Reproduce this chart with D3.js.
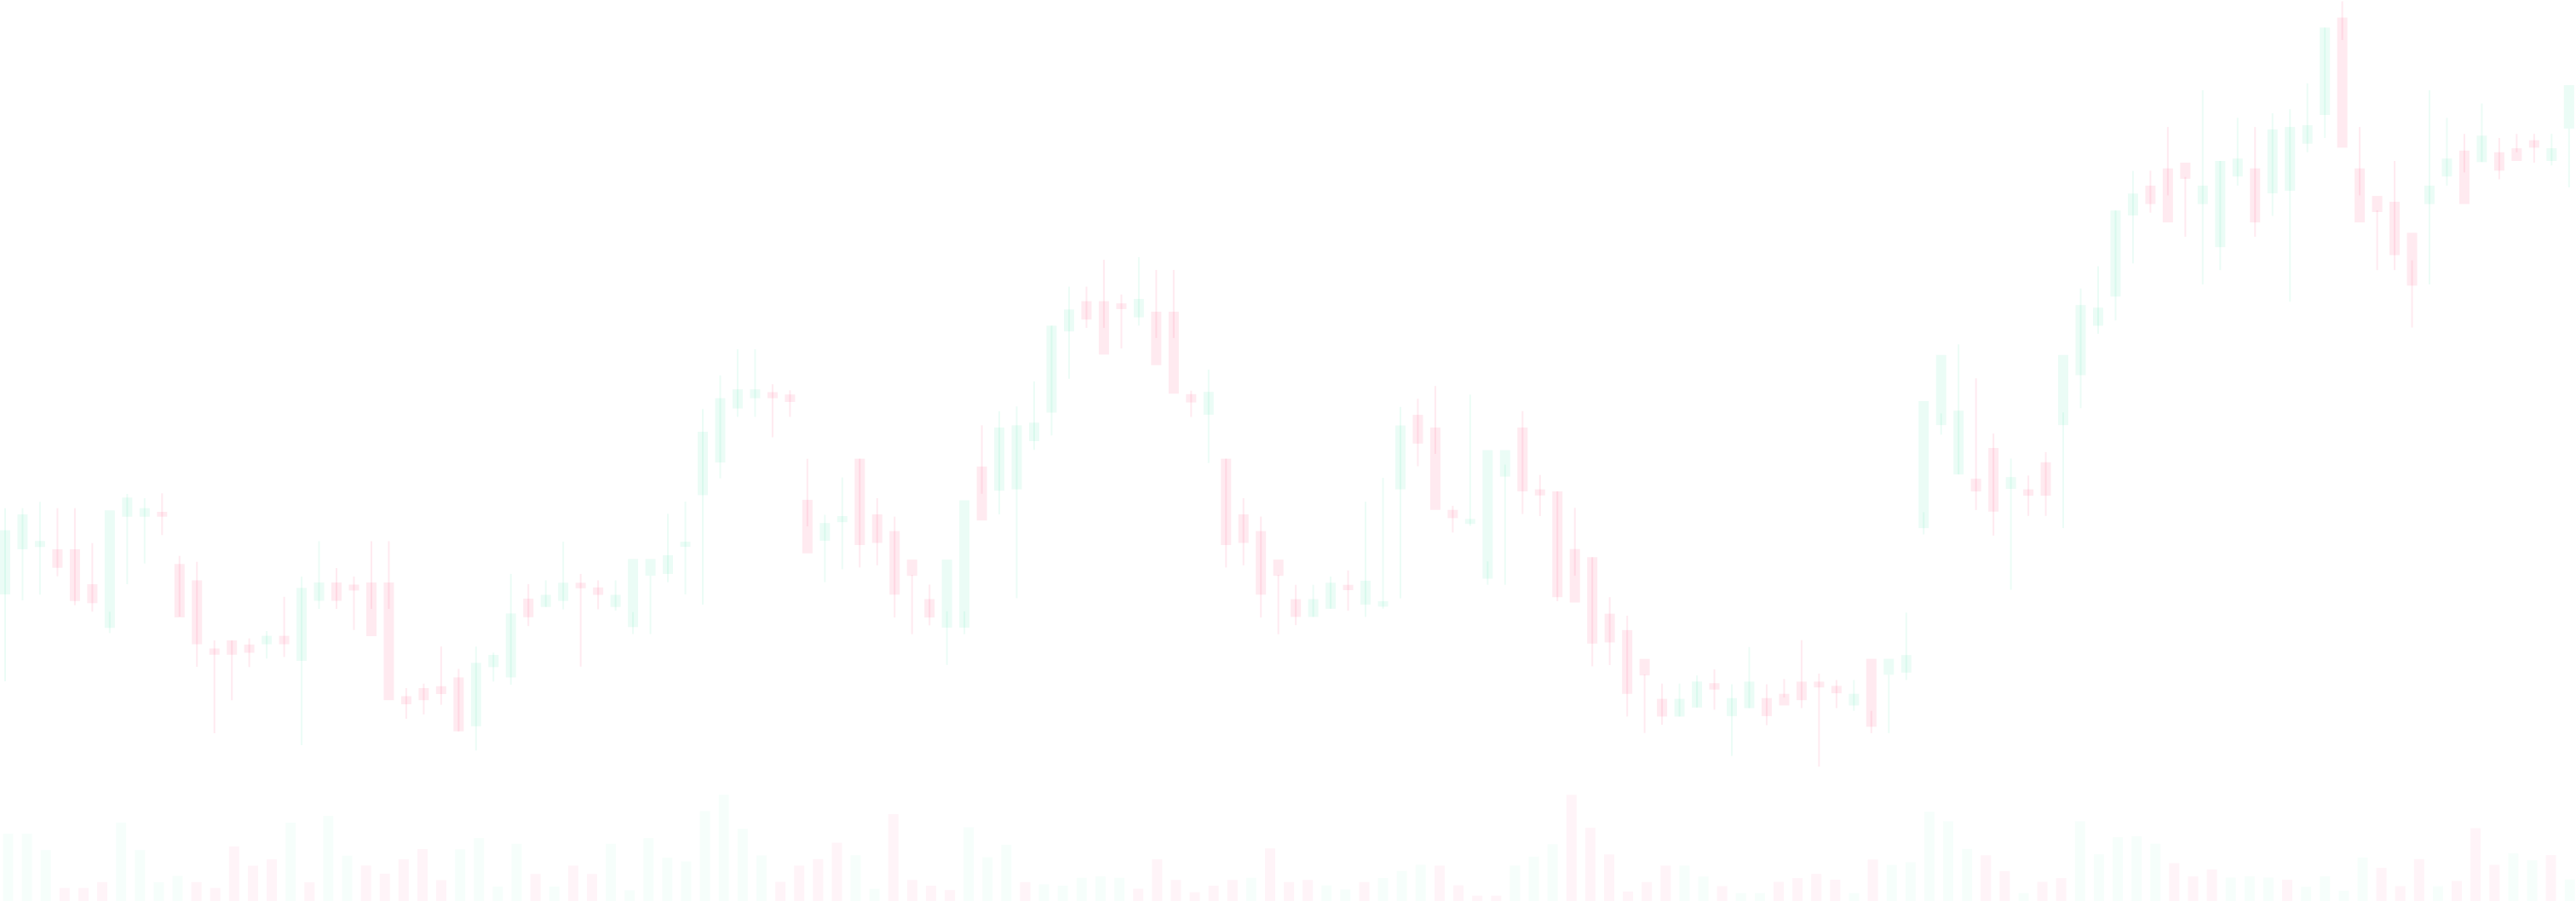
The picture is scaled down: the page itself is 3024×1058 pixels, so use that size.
<!DOCTYPE html>
<html><head><meta charset="utf-8">
<script src="https://cdn.jsdelivr.net/npm/d3@7"></script>
<style>html,body{margin:0;padding:0;background:#fff;overflow:hidden}svg{display:block}</style>
</head><body>
<script>
const openP = [
30.2,35.5,35.77,35.5,35.5,31.4,26.27,39.33,39.33,39.9,
33.77,31.85,23.85,24.8,24.32,24.35,25.34,22.4,29.45,31.6,
31.35,31.6,31.6,18.25,19.2,19.42,20.46,14.72,21.67,20.46,
29.71,28.73,29.44,31.57,31.02,28.73,26.37,32.4,32.61,35.79,
41.86,45.69,52.04,53.24,53.95,53.68,41.31,36.5,38.69,46.14,
39.6,37.64,34.29,29.65,26.3,26.3,45.22,42.38,42.54,48.2,
51.55,61.09,64.64,64.64,64.38,62.74,63.4,63.4,53.72,51.3,
46.14,39.6,37.64,34.29,29.64,27.56,28.52,31.33,29.01,28.77,
42.54,51.29,49.8,40.13,38.48,32.05,44.04,49.8,42.54,42.3,
35.53,34.57,27.94,26.01,22.63,17.94,15.86,16.92,19.78,15.91,
16.85,18.03,18.53,19.96,19.96,19.46,17.16,22.64,20.77,21.02,
37.99,50.09,44.29,43.79,47.4,42.6,42.54,45.72,50.09,55.95,
61.75,65.18,74.7,78.2,80.23,80.9,76.04,70.98,79.28,80.23,
77.3,77.6,83.13,86.5,97.94,80.23,76.99,76.31,72.67,76.04,
79.28,82.32,80.97,82.12,82.59,83.53,81.1,84.9];
const closeP = [
37.73,39.6,36.47,33.33,29.43,29.17,40.07,41.57,40.33,39.33,
27.5,24.35,23.12,23.12,23.35,25.34,24.35,30.96,31.6,29.45,
30.66,25.3,17.78,17.3,17.78,18.5,14.12,22.16,23.1,27.96,
27.52,30.15,31.57,30.92,30.15,30.15,34.36,34.36,34.8,36.39,
49.3,53.24,54.28,54.28,53.24,52.8,35.02,38.58,39.4,36,
36.25,30.17,32.38,27.49,34.29,41.25,38.88,49.8,50.06,50.37,
61.76,63.66,62.48,58.36,63.71,64.9,57.12,53.77,52.74,53.98,
36,36.25,30.17,32.38,27.56,29.64,31.57,30.7,31.81,29.4,
50.04,47.91,40.13,39.16,39.06,47.14,47.14,42.3,41.82,29.88,
29.25,24.42,24.56,18.52,20.69,15.86,17.94,19.97,19.03,18.03,
19.96,15.91,17.16,17.78,19.28,18.59,18.53,14.66,22.64,23.08,
52.9,58.32,51.77,42.29,39.92,43.98,41.79,41.79,58.32,64.18,
63.87,75.28,77.27,76.04,73.88,79.01,78.2,81.1,81.38,73.88,
84.8,85.09,85.29,96.76,82.66,73.88,75.1,70.04,66.46,78.2,
81.38,76.04,84.07,79.96,81.1,82.66,82.59,90];
const highP = [
40.33,40.33,41.07,40.33,40.33,36.23,28.17,42,41.5,42.07,
34.73,34.03,24.8,24.8,25.04,25.9,29.92,32.3,36.45,33.3,
32.3,36.45,36.45,19.2,19.72,24.08,21.45,24.08,23.37,32.61,
31.41,31.85,36.39,32.61,31.85,31.85,28.13,32.4,39.67,41.1,
51.98,55.92,58.99,58.99,54.88,54.17,46.13,39.56,43.94,46.14,
41.5,39.34,32.49,31.35,28.21,28.21,50.06,51.71,52.28,55.21,
61.76,66.34,66.34,69.49,65.42,69.8,68.3,68.3,54.13,56.6,
46.14,41.5,39.34,32.49,31.33,31.33,32.3,33.02,41.09,43.9,
52.21,53.18,54.68,40.61,53.66,34.08,45.44,51.73,44.23,42.3,
40.37,34.57,29.88,27.7,20.79,19.73,19.73,20.69,21.4,19.65,
24.02,19.65,20.27,24.83,20.9,20.15,20.15,16.53,20.77,28.07,
39.86,51.46,59.57,55.58,49.09,46.16,44.16,46.91,51.58,66.12,
68.74,75.28,79.93,79.96,85.09,79.22,89.4,81.1,86.17,85.09,
86.7,87.18,90.22,96.76,99.85,85.09,75.3,81.1,69.43,89.4,
86.17,84.28,87.85,83.8,84.28,84.28,84.28,84.9];
const lowP = [
20,29.5,30.17,32.33,28.93,28.17,25.67,31.4,33.83,37.17,
27.6,21.7,13.9,17.77,21.67,22.67,22.85,12.5,28.5,28.5,
26.03,28.5,28.5,15.6,16.1,17.24,14.12,11.87,19.97,19.59,
26.48,28.73,28.45,21.72,28.45,28.29,25.55,25.55,31.63,30.2,
29,43.83,51.05,51.05,48.65,51.05,38.19,31.63,33.16,33.36,
33.62,27.49,25.53,26.56,21.92,25.53,42.02,39.6,29.76,47.17,
48.87,55.52,61.5,61.5,59.08,61.76,60.31,60.31,51.04,45.63,
33.36,33.62,27.49,25.53,26.59,27.56,28.52,28.28,27.56,28.52,
29.73,45.25,46.7,37.47,38.24,31.33,31.33,39.64,39.4,29.4,
32.39,21.76,21.9,15.86,13.93,14.89,15.86,16.92,16.66,11.23,
16.85,14.85,18.09,16.85,9.98,16.85,16.53,13.91,13.91,20.15,
37.24,48.96,44.29,40.11,37.11,30.74,39.42,39.42,37.99,52.08,
60.81,62.37,69.07,75.03,77.06,72.2,66.6,68.28,78.2,72.2,
74.65,64.57,82.12,83.8,95.3,77.06,68.28,68.28,61.54,66.6,
78.2,79.76,80.97,78.95,82.12,80.9,80.57,78];
const volumes = [
79.2,79.2,59.8,15.3,15.3,22.2,92.2,59.8,22.2,29.5,
22.2,15.3,64,41.5,49,92,22,100,53.3,41.7,
32.1,49,61,24.6,60.7,73.9,17,67.3,31.7,17,
41.6,31.7,67.3,12.6,73.9,50.9,46.5,105.6,124.8,84.8,
53.6,22.4,41.6,49.2,68.4,53.8,14.4,102,24.7,18,
12.9,86.6,51.5,66,22.2,19.6,18,27.3,28.9,27.3,
14.4,49,24.7,10.3,18,24.7,27.3,61.8,22.3,24.7,
18.4,13.6,22.3,27.1,35.3,42.6,41.6,18.4,6.3,6.3,
41.6,52.2,66.7,124.7,86.1,54.7,11.1,22.3,41.6,41.6,
28.8,17.5,9.4,9.4,22.5,26.9,31.9,25,9.4,48.7,
42.4,45.6,104.8,93.6,61.2,53.7,35,9.4,22.5,26.9,
93.6,54.9,74.9,76.2,67.4,44.5,28.9,37,27.6,28.9,
27.6,24.9,16.8,28.9,12,51.2,39,17.4,49.2,17.4,
23.5,85.6,42.4,55.9,47.8,53.9,25.5];
const volumeUp = [
1,1,1,0,0,0,1,1,1,1,
0,0,0,0,0,1,0,1,1,0,
0,0,0,0,1,1,1,1,0,1,
0,0,1,1,1,1,1,1,1,1,
1,0,0,0,0,1,1,0,0,0,
0,1,1,1,0,1,1,1,1,1,
0,0,0,0,0,0,1,0,0,0,
1,1,0,1,1,1,0,0,0,0,
1,1,1,0,0,0,0,0,0,1,
1,0,1,1,0,0,0,0,1,0,
1,1,1,1,1,0,0,1,0,0,
1,1,1,1,1,0,0,0,1,1,
1,0,1,1,1,1,0,0,0,1,
0,0,0,1,1,0,1];

const W = 3024, H = 1058;
const upColor = "#00d98b", downColor = "#ff2d6f";
const candles = openP.map((o,i)=>({i, o, h:highP[i], l:lowP[i], c:closeP[i], up: closeP[i] >= o}));
const vols = volumes.map((v,i)=>({i, v, up: volumeUp[i] === 1}));

const svg = d3.select("body").append("svg").attr("width", W).attr("height", H);
svg.append("rect").attr("width", W).attr("height", H).attr("fill", "#fff");

const x = d3.scaleLinear().domain([0, candles.length-1]).range([6, 3015.8]);
const y = d3.scaleLinear().domain([0, 100]).range([1000, 0]);
const xv = d3.scaleLinear().domain([0, vols.length-1]).range([9.5, 3016.7]);
const yv = d3.scaleLinear().domain([0, 130]).range([H, H-130]);
const bodyW = 12, barW = 12;

svg.append("g").selectAll("rect").data(vols).join("rect")
  .attr("x", d=>xv(d.i)-barW/2).attr("width", barW)
  .attr("y", d=>yv(d.v)).attr("height", d=>yv(0)-yv(d.v))
  .attr("fill", d=>d.up?upColor:downColor)
  .attr("fill-opacity", d=>d.up?0.035:0.05);

const g = svg.append("g");
g.selectAll("line").data(candles).join("line")
  .attr("x1", d=>x(d.i)).attr("x2", d=>x(d.i))
  .attr("y1", d=>y(d.h)).attr("y2", d=>y(d.l))
  .attr("stroke", d=>d.up?upColor:downColor)
  .attr("stroke-opacity", d=>d.up?0.08:0.1)
  .attr("stroke-width", 2);
g.selectAll("rect").data(candles).join("rect")
  .attr("x", d=>x(d.i)-bodyW/2).attr("width", bodyW)
  .attr("y", d=>y(Math.max(d.o,d.c)))
  .attr("height", d=>Math.max(1, Math.abs(y(d.o)-y(d.c))))
  .attr("fill", d=>d.up?upColor:downColor)
  .attr("fill-opacity", d=>d.up?0.08:0.1);
</script>
</body></html>
